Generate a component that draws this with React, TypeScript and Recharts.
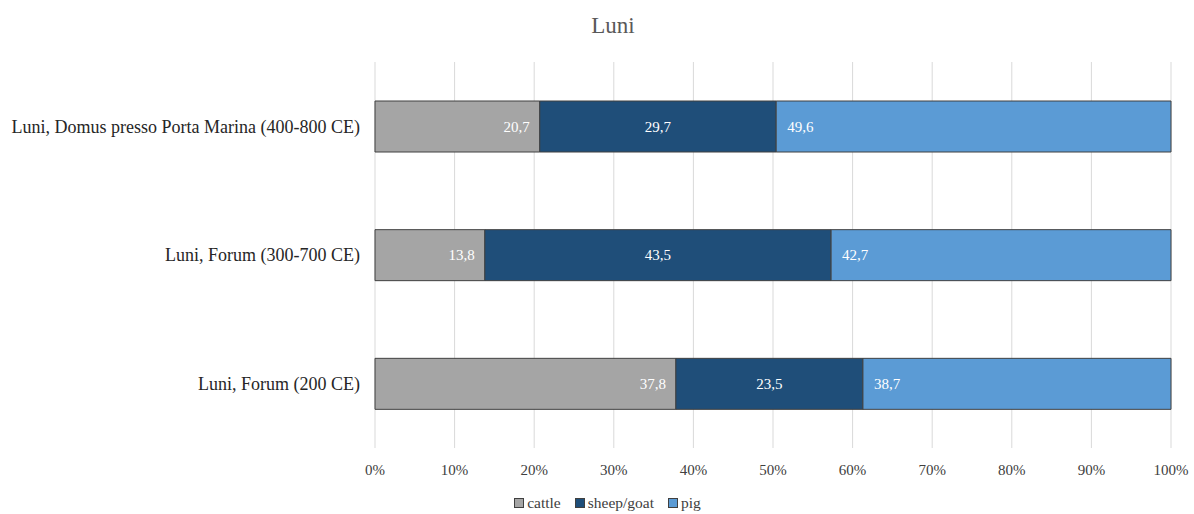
import * as React from "react";
import {
  BarChart,
  Bar,
  XAxis,
  YAxis,
  CartesianGrid,
  Legend,
  LabelList,
} from "recharts";

const categories = [
  "Luni, Domus presso Porta Marina (400-800 CE)",
  "Luni, Forum (300-700 CE)",
  "Luni, Forum (200 CE)",
];
const cattle = [20.7, 13.8, 37.8];
const sheepGoat = [29.7, 43.5, 23.5];
const pig = [49.6, 42.7, 38.7];
const xTicks = [0, 10, 20, 30, 40, 50, 60, 70, 80, 90, 100];

const data = categories.map((name, i) => ({
  name,
  cattle: cattle[i],
  sheepGoat: sheepGoat[i],
  pig: pig[i],
}));

const FONT = "'Liberation Serif', 'Times New Roman', serif";

const series = [
  { key: "cattle", label: "cattle", color: "#a5a5a5", pos: "insideRight", offset: 10 },
  { key: "sheepGoat", label: "sheep/goat", color: "#1f4e79", pos: "center", offset: 0 },
  { key: "pig", label: "pig", color: "#5b9bd5", pos: "insideLeft", offset: 11 },
];

const fmt = (v: any) => Number(v).toFixed(1).replace(".", ",");

// legend like the office one: small bordered squares
const LegendBox = () => (
  <div
    style={{
      display: "flex",
      justifyContent: "center",
      alignItems: "center",
      height: 20,
      paddingLeft: 58,
      fontFamily: FONT,
      fontSize: 15.5,
      color: "#404040",
    }}
  >
    {series.map((s) => (
      <div key={s.key} style={{ display: "flex", alignItems: "center", marginRight: 14 }}>
        <span
          style={{
            display: "inline-block",
            width: 8,
            height: 8,
            background: s.color,
            border: "1px solid #404040",
            marginRight: 3,
          }}
        />
        <span>{s.label}</span>
      </div>
    ))}
  </div>
);

export default function App() {
  return (
    <div
      style={{
        position: "absolute",
        left: 0,
        top: 0,
        width: 1194,
        height: 514,
        background: "#fff",
      }}
    >
      <div
        style={{
          position: "absolute",
          top: 13,
          left: 16,
          width: 1194,
          textAlign: "center",
          fontFamily: FONT,
          fontSize: 23,
          color: "#595959",
        }}
      >
        Luni
      </div>
      <BarChart
        width={1194}
        height={514}
        data={data}
        layout="vertical"
        margin={{ top: 62, right: 23, left: 0, bottom: 16 }}
        barSize={51}
        style={{ fontFamily: FONT }}
      >
        <CartesianGrid horizontal={false} stroke="#d9d9d9" />
        <XAxis
          type="number"
          domain={[0, 100]}
          ticks={xTicks}
          tickFormatter={(v) => `${v}%`}
          axisLine={false}
          tickLine={false}
          tickSize={0}
          tickMargin={16}
          height={30}
          tick={{ fill: "#404040", fontSize: 15, fontFamily: FONT }}
        />
        <YAxis
          type="category"
          dataKey="name"
          width={375}
          axisLine={false}
          tickLine={false}
          tickSize={0}
          tickMargin={15}
          tick={{ fill: "#262626", fontSize: 18, fontFamily: FONT }}
        />
        <Legend
          verticalAlign="bottom"
          content={<LegendBox />}
          wrapperStyle={{ bottom: 1 }}
        />
        {series.map((s) => (
          <Bar
            key={s.key}
            dataKey={s.key}
            name={s.label}
            stackId="a"
            fill={s.color}
            stroke="#404040"
            strokeWidth={1}
            isAnimationActive={false}
          >
            <LabelList
              dataKey={s.key}
              position={s.pos as any}
              offset={s.offset}
              formatter={fmt}
              fill="#ffffff"
              style={{ fontSize: 15, fontFamily: FONT }}
            />
          </Bar>
        ))}
      </BarChart>
    </div>
  );
}
